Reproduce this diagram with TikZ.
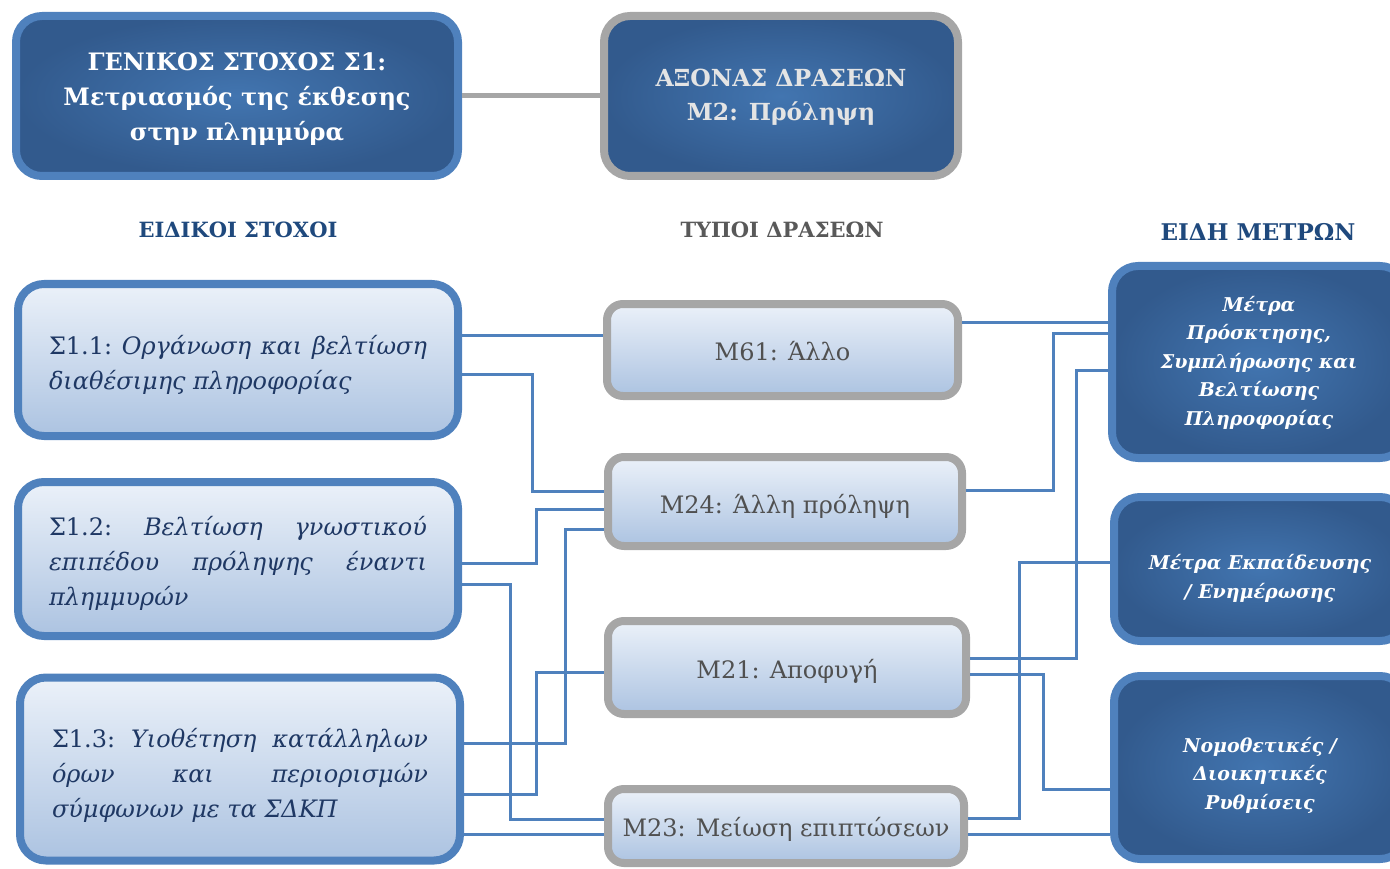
\documentclass[tikz,border=0pt]{standalone}
\usepackage{fontspec}
\setmainfont{DejaVu Serif}
\definecolor{bblue}{RGB}{79,129,189}
\definecolor{bgray}{RGB}{166,166,166}
\definecolor{ltop}{RGB}{235,241,249}
\definecolor{lbot}{RGB}{172,195,225}
\definecolor{dcin}{RGB}{66,117,176}
\definecolor{dcout}{RGB}{50,90,141}
\definecolor{stext}{RGB}{31,56,100}
\definecolor{mtext}{RGB}{80,80,80}
\definecolor{hblue}{RGB}{31,73,125}
\definecolor{hgray}{RGB}{89,89,89}
\definecolor{atext}{RGB}{228,228,228}
\newcommand{\boxtext}[3]{\raisebox{#1}[0pt][0pt]{\parbox{#2}{#3}}}
\newcommand{\linetext}[2]{\raisebox{#1}[0pt][0pt]{#2}}
\begin{document}
\begin{tikzpicture}[x=1pt,y=-1pt,
  darkbox/.style={draw=bblue, line width=8pt, rounded corners=26pt, inner color=dcin, outer color=dcout, align=center, text=white, inner sep=0pt},
  axisbox/.style={darkbox, draw=bgray},
  lightbox/.style={draw=bblue, line width=8pt, rounded corners=26pt, top color=ltop, bottom color=lbot, text=stext, inner sep=0pt, font=\fontsize{24}{35}\selectfont},
  midbox/.style={draw=bgray, line width=8pt, rounded corners=16pt, top color=ltop, bottom color=lbot, text=mtext, inner sep=0pt, font=\fontsize{24}{30}\selectfont},
  rtext/.style={font=\fontsize{19}{28.5}\selectfont\bfseries\itshape},
  header/.style={font=\fontsize{21}{25}\selectfont\bfseries},
  conn/.style={draw=bblue, line width=3pt},
  link/.style={draw=bgray, line width=5pt}]
\useasboundingbox (0,0) rectangle (1390,869);
\clip (0,0) rectangle (1390,869);

% top boxes
\node[darkbox, minimum width=442pt, minimum height=160pt, font=\fontsize{24}{35}\selectfont\bfseries] (g) at (237,96)
  {\boxtext{-9.5pt}{430pt}{\centering ΓΕΝΙΚΟΣ ΣΤΟΧΟΣ Σ1:\\Μετριασμός της έκθεσης\\στην πλημμύρα}};
\node[axisbox, minimum width=354pt, minimum height=160pt, text=atext, font=\fontsize{23.5}{34}\selectfont\bfseries] (a) at (781,96)
  {\boxtext{-7.5pt}{340pt}{\centering ΑΞΟΝΑΣ ΔΡΑΣΕΩΝ\\M2: Πρόληψη}};
\draw[link] (g.east) -- (a.west);

% headers
\node[header, text=hblue] (h1) at (238,230) {ΕΙΔΙΚΟΙ ΣΤΟΧΟΙ};
\node[header, text=hgray] (h2) at (782,230) {ΤΥΠΟΙ ΔΡΑΣΕΩΝ};
\node[header, text=hblue, font=\fontsize{23}{27}\selectfont\bfseries] (h3) at (1258,232) {ΕΙΔΗ ΜΕΤΡΩΝ};

% left boxes
\node[lightbox, minimum width=440pt, minimum height=152pt] (s11) at (238,360)
  {\boxtext{-11.5pt}{378pt}{Σ1.1:\hfill\textit{Οργάνωση}\hfill\textit{και}\hfill\textit{βελτίωση}\\\textit{διαθέσιμης πληροφορίας}}};
\node[lightbox, minimum width=440pt, minimum height=154pt] (s12) at (238,559)
  {\boxtext{-10.5pt}{378pt}{Σ1.2:\hfill\textit{Βελτίωση}\hfill\textit{γνωστικού}\\\textit{επιπέδου}\hfill\textit{πρόληψης}\hfill\textit{έναντι}\\\textit{πλημμυρών}}};
\node[lightbox, minimum width=440pt, minimum height=183pt] (s13) at (240,769)
  {\boxtext{-12.5pt}{376pt}{Σ1.3:\hfill\textit{Υιοθέτηση}\hfill\textit{κατάλληλων}\\\textit{όρων}\hfill\textit{και}\hfill\textit{περιορισμών}\\\textit{σύμφωνων με τα ΣΔΚΠ}}};

% middle boxes
\node[midbox, minimum width=351pt, minimum height=92pt] (m61) at (782.5,350) {\linetext{-10pt}{M61: Άλλο}};
\node[midbox, minimum width=354pt, minimum height=89pt] (m24) at (785,501.5) {\linetext{-11.5pt}{M24: Άλλη πρόληψη}};
\node[midbox, minimum width=358pt, minimum height=93pt] (m21) at (787,667.5) {\linetext{-10.5pt}{M21: Αποφυγή}};
\node[midbox, minimum width=356pt, minimum height=74pt] (m23) at (786,826) {\linetext{-10pt}{M23: Μείωση επιπτώσεων}};

% right boxes
\node[darkbox, minimum width=294pt, minimum height=192pt, rtext] (r1) at (1259,362)
  {\boxtext{-5pt}{280pt}{\centering Μέτρα\\Πρόσκτησης,\\Συμπλήρωσης και\\Βελτίωσης\\Πληροφορίας}};
\node[darkbox, minimum width=292pt, minimum height=144pt, rtext] (r2) at (1260,569)
  {\boxtext{-13.75pt}{280pt}{\centering Μέτρα Εκπαίδευσης\\/ Ενημέρωσης}};
\node[darkbox, minimum width=292pt, minimum height=183pt, rtext] (r3) at (1260,767.5)
  {\boxtext{-11.75pt}{280pt}{\centering Νομοθετικές /\\Διοικητικές\\Ρυθμίσεις}};

% connectors left
\draw[conn] (s11.east |- 0,335) -- (m61.west |- 0,335);
\draw[conn] (s11.east |- 0,374) -- (532,374) -- (532,491) -- (m24.west |- 0,491);
\draw[conn] (s12.east |- 0,563) -- (536,563) -- (536,509) -- (m24.west |- 0,509);
\draw[conn] (s13.east |- 0,743) -- (565,743) -- (565,529) -- (m24.west |- 0,529);
\draw[conn] (s12.east |- 0,584) -- (510,584) -- (510,819) -- (m23.west |- 0,819);
\draw[conn] (s13.east |- 0,794) -- (536,794) -- (536,672) -- (m21.west |- 0,672);
\draw[conn] (s13.east |- 0,834) -- (m23.west |- 0,834);

% connectors right
\draw[conn] (m61.east |- 0,322) -- (r1.west |- 0,322);
\draw[conn] (m24.east |- 0,490) -- (1053,490) -- (1053,333) -- (r1.west |- 0,333);
\draw[conn] (m21.east |- 0,658) -- (1076,658) -- (1076,370) -- (r1.west |- 0,370);
\draw[conn] (m23.east |- 0,818) -- (1019,818) -- (1019,562) -- (r2.west |- 0,562);
\draw[conn] (m21.east |- 0,674) -- (1043,674) -- (1043,789) -- (r3.west |- 0,789);
\draw[conn] (m23.east |- 0,834) -- (r3.west |- 0,834);
\end{tikzpicture}
\end{document}
